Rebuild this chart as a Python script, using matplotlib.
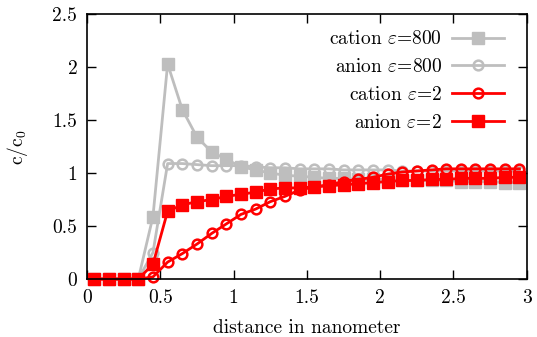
import numpy as np
import matplotlib
matplotlib.use("Agg")
import matplotlib.pyplot as plt

plt.rcParams['font.family'] = ['cmr10', 'DejaVu Serif']
plt.rcParams['mathtext.fontset'] = 'cm'
plt.rcParams['axes.formatter.use_mathtext'] = True
plt.rcParams['font.size'] = 14

# distance (nm), bin centres
dist = [0.05, 0.15, 0.25, 0.35, 0.45, 0.55, 0.65, 0.75, 0.85, 0.95,
        1.05, 1.15, 1.25, 1.35, 1.45, 1.55, 1.65, 1.75, 1.85, 1.95,
        2.05, 2.15, 2.25, 2.35, 2.45, 2.55, 2.65, 2.75, 2.85, 2.95]

cation_800 = [0, 0, 0, 0, 0.59, 2.03, 1.60, 1.34, 1.20, 1.13,
              1.06, 1.03, 1.00, 0.98, 0.97, 0.96, 0.95, 0.95, 0.94, 0.94,
              0.94, 0.93, 0.93, 0.93, 0.93, 0.92, 0.92, 0.92, 0.91, 0.91]
anion_800 = [0, 0, 0, 0, 0.25, 1.09, 1.09, 1.08, 1.07, 1.07,
             1.07, 1.06, 1.05, 1.05, 1.04, 1.04, 1.04, 1.03, 1.03, 1.03,
             1.03, 1.02, 1.02, 1.02, 1.02, 1.02, 1.02, 1.02, 1.02, 1.02]
cation_2 = [0, 0, 0, 0, 0.02, 0.16, 0.24, 0.33, 0.43, 0.52,
            0.61, 0.66, 0.73, 0.78, 0.84, 0.87, 0.89, 0.92, 0.94, 0.96,
            0.99, 1.01, 1.02, 1.03, 1.04, 1.04, 1.04, 1.04, 1.04, 1.04]
anion_2 = [0, 0, 0, 0, 0.14, 0.64, 0.70, 0.73, 0.75, 0.78,
           0.80, 0.82, 0.85, 0.86, 0.86, 0.87, 0.88, 0.89, 0.90, 0.91,
           0.92, 0.93, 0.93, 0.94, 0.94, 0.95, 0.95, 0.95, 0.96, 0.96]

grey = '#bebebe'
red = '#ff0000'

fig = plt.figure(figsize=(5.37, 3.37), dpi=100)
ax = fig.add_axes([0.162, 0.172, 0.819, 0.786])

ax.plot(dist, cation_800, color=grey, lw=2, marker='s', ms=8.5,
        label=r'cation $\varepsilon$=800', clip_on=False)
ax.plot(dist, anion_800, color=grey, lw=2, marker='o', ms=7, mfc='none', mew=1.8,
        label=r'anion $\varepsilon$=800', clip_on=False)
ax.plot(dist, cation_2, color=red, lw=2, marker='o', ms=7, mfc='none', mew=1.8,
        label=r'cation $\varepsilon$=2', clip_on=False)
ax.plot(dist, anion_2, color=red, lw=2, marker='s', ms=8.5,
        label=r'anion $\varepsilon$=2', clip_on=False)

ax.set_xlim(0, 3)
ax.set_ylim(0, 2.5)
ax.set_xticks([0, 0.5, 1, 1.5, 2, 2.5, 3])
ax.set_xticklabels(['0', '0.5', '1', '1.5', '2', '2.5', '3'])
ax.set_yticks([0, 0.5, 1, 1.5, 2, 2.5])
ax.set_yticklabels(['0', '0.5', '1', '1.5', '2', '2.5'])
ax.tick_params(direction='in', length=6.5, width=1, top=True, right=True, pad=7)
for s in ax.spines.values():
    s.set_linewidth(1.2)

ax.set_xlabel('distance in nanometer', labelpad=9)
ax.set_ylabel(r'$\mathrm{c/c_0}$', labelpad=16)

ax.legend(loc='upper right', frameon=False, markerfirst=False, handlelength=2.7,
          handletextpad=0.5, labelspacing=0.5, borderaxespad=0.3,
          bbox_to_anchor=(0.98, 0.99))

fig.savefig('out.png', dpi=100)
